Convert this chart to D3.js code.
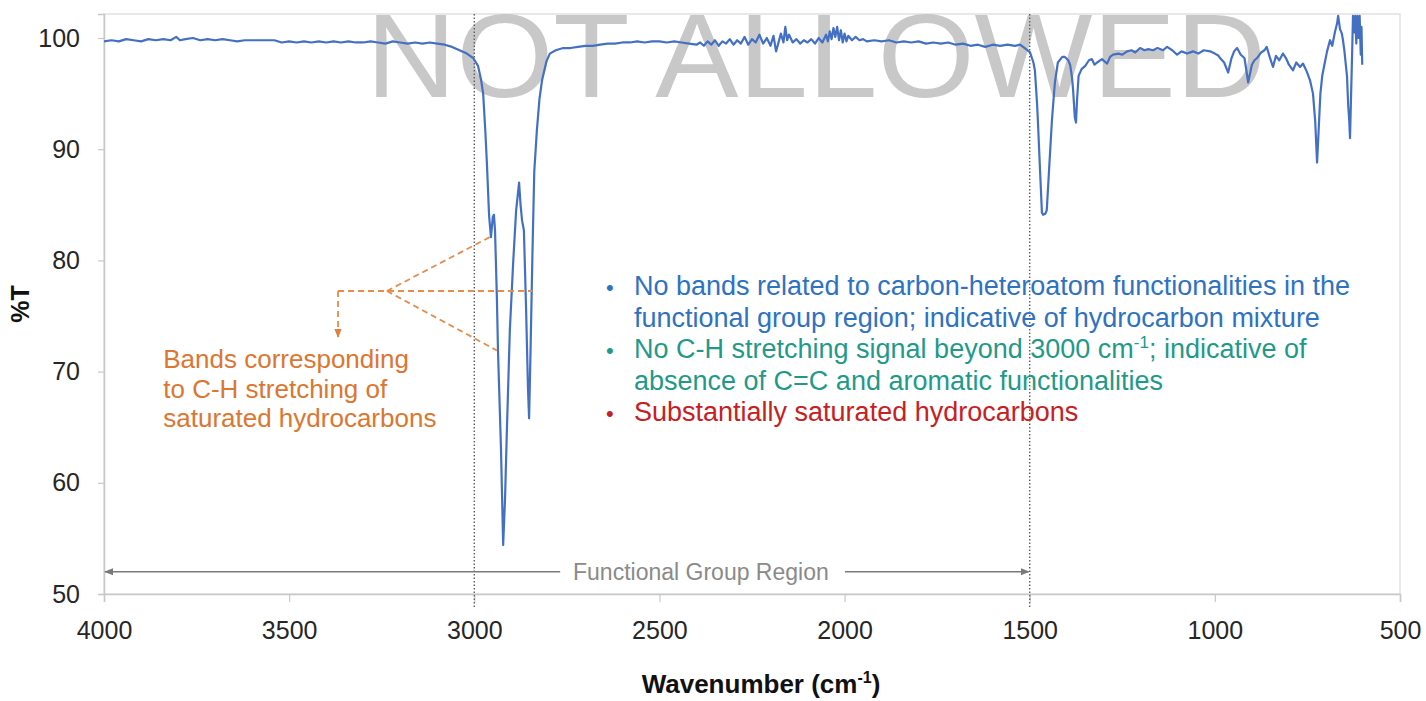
<!DOCTYPE html>
<html><head><meta charset="utf-8">
<script src="https://cdn.jsdelivr.net/npm/d3@7"></script>
<style>
html,body{margin:0;padding:0;background:#fff;}
svg{display:block;font-family:"Liberation Sans",Arial,Helvetica,sans-serif;}
</style></head>
<body>
<svg id="chart" width="1426" height="701"></svg>
<script>
// ---------- data ----------
const xTicks = [4000, 3500, 3000, 2500, 2000, 1500, 1000, 500];
const yTicks = [50, 60, 70, 80, 90, 100];
const regionLines = [3000, 1500];
const bulletLines = [
  {color: "#2e72c2", bullet: true,  parts: [["No bands related to carbon-heteroatom functionalities in the"]]},
  {color: "#2e72c2", bullet: false, parts: [["functional group region; indicative of hydrocarbon mixture"]]},
  {color: "#1f9a8a", bullet: true,  parts: [["No C-H stretching signal beyond 3000 cm"], ["-1", "sup"], ["; indicative of"]]},
  {color: "#1f9a8a", bullet: false, parts: [["absence of C=C and aromatic functionalities"]]},
  {color: "#c8201f", bullet: true,  parts: [["Substantially saturated hydrocarbons"]]}
];
const bandLabel = ["Bands corresponding", "to C-H stretching of", "saturated hydrocarbons"];
// spectrum: [wavenumber (cm-1), %T]
const spectrum = [
[4000,99.7],[3980,99.8],[3960,99.7],[3940,99.9],[3920,99.8],[3900,99.7],[3880,99.9],[3860,99.8],[3840,99.9],[3820,99.8],
[3805,100.1],[3795,99.8],[3780,99.9],[3760,100.0],[3740,99.8],[3720,99.9],[3700,99.8],[3680,99.9],[3660,99.8],[3640,99.7],
[3620,99.8],[3600,99.8],[3580,99.8],[3560,99.8],[3540,99.8],[3520,99.6],[3500,99.7],[3480,99.6],[3460,99.7],[3440,99.6],
[3420,99.7],[3400,99.6],[3380,99.7],[3360,99.6],[3340,99.7],[3320,99.6],[3300,99.6],[3280,99.7],[3260,99.6],[3240,99.5],
[3220,99.7],[3200,99.6],[3180,99.5],[3160,99.6],[3140,99.5],[3120,99.6],[3100,99.5],[3080,99.4],[3060,99.2],[3040,98.9],
[3020,98.6],[3003,98.2],[2990,97.5],[2982,96.3],[2976,95.0],[2970,91.5],[2966,88.8],[2960,84.0],[2955,82.1],[2950,83.9],
[2947,84.1],[2944,82.7],[2939,76.7],[2936,71.9],[2928,63.2],[2922,54.4],[2917,58.5],[2912,64.7],[2904,73.7],[2895,79.8],
[2887,84.5],[2879,87.0],[2875,85.0],[2871,83.6],[2866,82.7],[2860,75.5],[2855,68.5],[2852,65.8],[2848,72.0],[2843,80.5],
[2838,88.0],[2831,91.7],[2824,94.5],[2817,96.2],[2805,97.9],[2796,98.6],[2780,98.9],[2760,99.1],[2740,99.1],[2720,99.2],
[2700,99.3],[2680,99.3],[2660,99.4],[2640,99.5],[2620,99.5],[2600,99.6],[2580,99.6],[2560,99.7],[2540,99.6],[2520,99.7],
[2500,99.7],[2480,99.6],[2460,99.7],[2440,99.6],[2420,99.5],[2400,99.4],[2390,99.6],[2380,99.3],[2370,99.7],[2360,99.4],
[2350,99.8],[2340,99.3],[2330,99.7],[2320,99.5],[2310,99.9],[2300,99.4],[2290,99.8],[2280,99.5],[2270,100.1],[2260,99.4],
[2250,99.9],[2240,99.6],[2230,100.3],[2220,99.5],[2210,100.0],[2200,99.3],[2192,100.2],[2185,98.8],[2180,99.4],[2172,100.4],
[2165,99.6],[2160,101.0],[2155,99.8],[2150,100.3],[2140,99.6],[2130,99.9],[2120,99.5],[2110,99.8],[2100,99.6],[2090,99.9],
[2080,99.5],[2070,100.0],[2060,99.6],[2050,100.3],[2045,99.7],[2040,100.6],[2035,99.9],[2030,100.9],[2025,100.1],[2020,101.0],
[2015,99.8],[2010,100.7],[2005,99.6],[2000,100.4],[1995,99.7],[1990,100.2],[1980,99.8],[1970,100.1],[1960,99.8],[1950,99.9],
[1940,99.7],[1920,99.8],[1900,99.7],[1880,99.8],[1860,99.6],[1840,99.7],[1820,99.6],[1800,99.7],[1780,99.5],[1760,99.6],
[1740,99.5],[1720,99.6],[1700,99.4],[1680,99.5],[1660,99.3],[1640,99.4],[1620,99.2],[1600,99.4],[1580,99.3],[1560,99.4],
[1540,99.3],[1526,99.4],[1510,99.0],[1499,98.7],[1490,97.8],[1486,97.1],[1480,94.0],[1478,92.6],[1472,88.0],[1467,84.3],
[1464,84.1],[1458,84.2],[1454,84.5],[1448,88.0],[1440,92.6],[1432,96.0],[1424,97.8],[1412,98.3],[1405,98.3],[1396,98.0],
[1391,97.6],[1386,96.5],[1383,95.4],[1378,92.8],[1375,92.4],[1372,94.5],[1368,96.6],[1360,97.2],[1350,97.5],[1340,98.0],
[1332,98.1],[1325,97.6],[1318,97.8],[1305,98.1],[1291,97.7],[1283,98.3],[1275,98.5],[1260,98.6],[1250,98.5],[1237,98.8],
[1225,98.9],[1215,98.7],[1202,99.1],[1190,98.9],[1180,99.0],[1167,98.9],[1155,99.1],[1140,98.9],[1129,99.2],[1115,98.9],
[1102,98.5],[1090,98.8],[1075,98.6],[1059,98.8],[1045,98.6],[1030,98.9],[1013,98.8],[1000,98.6],[990,98.4],[986,98.2],
[975,97.8],[964,96.9],[955,98.2],[948,98.8],[940,99.1],[930,98.5],[920,98.2],[910,96.0],[900,97.6],[893,98.0],
[886,98.2],[875,98.7],[866,98.9],[860,99.2],[852,98.3],[843,97.4],[835,98.4],[826,98.0],[816,98.6],[808,98.2],
[800,97.6],[789,97.1],[780,97.8],[770,97.4],[762,97.7],[752,97.0],[743,96.2],[735,95.0],[729,92.5],[724,88.8],
[720,91.5],[715,95.0],[710,96.6],[703,97.8],[697,98.8],[689,99.8],[683,99.3],[676,100.5],[670,101.3],[667,102.0],
[662,100.8],[657,100.4],[654,99.8],[650,98.8],[646,97.5],[643,96.5],[640,94.0],[637,92.5],[635,91.0],[632,95.0],
[629,99.0],[627,102.0],[624,100.5],[621,102.0],[618,99.5],[615,102.0],[612,100.0],[609,102.0],[606,98.5],[604,101.0],[602,97.6]
];

// ---------- layout ----------
const svg = d3.select("#chart");
const M = {left: 104, right: 1400, top: 14, bottom: 594};
const x = d3.scaleLinear().domain([4000, 500]).range([M.left, M.right]);
const y = d3.scaleLinear().domain([50, 102.16]).range([M.bottom, M.top]);
const FONT = '"Liberation Sans",Arial,Helvetica,sans-serif';

svg.append("rect").attr("width", 1426).attr("height", 701).attr("fill", "#fff");

// plot border
svg.append("rect").attr("x", M.left).attr("y", M.top)
  .attr("width", M.right - M.left).attr("height", M.bottom - M.top)
  .attr("fill", "none").attr("stroke", "#dadada").attr("stroke-width", 1.2);

// watermark
svg.append("text").attr("x", 366).attr("y", 97)
  .attr("font-size", 118).attr("font-family", FONT)
  .attr("fill", "#c2c2c2").attr("fill-opacity", 0.9)
  .attr("textLength", 900).attr("lengthAdjust", "spacingAndGlyphs")
  .text("NOT ALLOWED");

// axes
const xAxis = svg.append("g").attr("transform", `translate(0,${M.bottom})`)
  .call(d3.axisBottom(x).tickValues(xTicks).tickSize(8).tickPadding(19).tickFormat(d3.format("d")));
const yAxis = svg.append("g").attr("transform", `translate(${M.left},0)`)
  .call(d3.axisLeft(y).tickValues(yTicks).tickSize(6).tickPadding(18).tickFormat(d3.format("d")));
[xAxis, yAxis].forEach(g => {
  g.select(".domain").attr("stroke", "#c8c8c8").attr("stroke-width", 1.5);
  g.selectAll(".tick line").attr("stroke", "#c8c8c8").attr("stroke-width", 1.2);
  g.selectAll(".tick text").attr("fill", "#262626").attr("font-size", 25).attr("font-family", FONT);
});

// axis titles
svg.append("text").attr("x", 761).attr("y", 693).attr("text-anchor", "middle")
  .attr("font-size", 26).attr("font-weight", "bold").attr("font-family", FONT).attr("fill", "#111")
  .call(t => { t.append("tspan").text("Wavenumber (cm");
               t.append("tspan").attr("dy", -10).attr("font-size", 16).text("-1");
               t.append("tspan").attr("dy", 10).text(")"); });
svg.append("text").attr("transform", `translate(29,${(M.top + M.bottom) / 2}) rotate(-90)`)
  .attr("text-anchor", "middle").attr("font-size", 25).attr("font-weight", "bold")
  .attr("font-family", FONT).attr("fill", "#111").text("%T");

// region dotted lines
svg.selectAll("line.region").data(regionLines).join("line")
  .attr("x1", d => x(d)).attr("x2", d => x(d))
  .attr("y1", M.top).attr("y2", M.bottom + 14)
  .attr("stroke", "#5f5f5f").attr("stroke-width", 1.4).attr("stroke-dasharray", "1.5,2");

// markers
const defs = svg.append("defs");
defs.append("marker").attr("id", "gArrow").attr("viewBox", "0 0 10 10").attr("refX", 9).attr("refY", 5)
  .attr("markerWidth", 9).attr("markerHeight", 9).attr("markerUnits", "userSpaceOnUse").attr("orient", "auto")
  .append("path").attr("d", "M0,1 L10,5 L0,9 z").attr("fill", "#7a7a7a");
defs.append("marker").attr("id", "oArrow").attr("viewBox", "0 0 10 10").attr("refX", 9).attr("refY", 5)
  .attr("markerWidth", 9).attr("markerHeight", 9).attr("markerUnits", "userSpaceOnUse").attr("orient", "auto")
  .append("path").attr("d", "M0,1 L10,5 L0,9 z").attr("fill", "#e0803a");

// functional group region arrow
const fgY = y(52);
svg.append("line").attr("x1", x(2768)).attr("x2", x(4000) + 1).attr("y1", fgY).attr("y2", fgY)
  .attr("stroke", "#7a7a7a").attr("stroke-width", 1.6).attr("marker-end", "url(#gArrow)");
svg.append("line").attr("x1", x(1999)).attr("x2", x(1500) - 1).attr("y1", fgY).attr("y2", fgY)
  .attr("stroke", "#7a7a7a").attr("stroke-width", 1.6).attr("marker-end", "url(#gArrow)");
svg.append("text").attr("x", x(2388)).attr("y", fgY + 8).attr("text-anchor", "middle")
  .attr("font-size", 23).attr("font-family", FONT).attr("fill", "#8a8a8a").text("Functional Group Region");

// spectrum
svg.append("clipPath").attr("id", "plotClip").append("rect")
  .attr("x", M.left).attr("y", M.top).attr("width", M.right - M.left).attr("height", M.bottom - M.top);
const line = d3.line().x(d => x(d[0])).y(d => y(d[1]));
svg.append("path").datum(spectrum).attr("d", line).attr("clip-path", "url(#plotClip)")
  .attr("fill", "none").attr("stroke", "#4470c4").attr("stroke-width", 2.2).attr("stroke-linejoin", "round");

// orange annotation (dashed leaders)
const oStyle = s => s.attr("stroke", "#e68c4c").attr("stroke-width", 1.8).attr("stroke-dasharray", "6,4").attr("fill", "none");
const jY = 77.25;
svg.append("line").attr("x1", x(3368)).attr("x2", x(2844)).attr("y1", y(jY)).attr("y2", y(jY)).call(oStyle);
svg.append("line").attr("x1", x(3236)).attr("x2", x(2958)).attr("y1", y(jY)).attr("y2", y(82.1)).call(oStyle);
svg.append("line").attr("x1", x(3236)).attr("x2", x(2939)).attr("y1", y(jY)).attr("y2", y(71.9)).call(oStyle);
svg.append("line").attr("x1", x(3368)).attr("x2", x(3368)).attr("y1", y(jY)).attr("y2", y(73.1)).call(oStyle)
  .attr("marker-end", "url(#oArrow)");

svg.append("g").selectAll("text").data(bandLabel).join("text")
  .attr("x", x(3840)).attr("y", (d, i) => 368 + i * 29.5)
  .attr("font-size", 26).attr("font-family", FONT).attr("fill", "#dc7630").text(d => d);

// bullet text
const bl = svg.append("g");
bulletLines.forEach((L, i) => {
  const by = 295 + i * 31.5;
  if (L.bullet) bl.append("text").attr("x", 606).attr("y", by).attr("font-size", 22)
    .attr("font-family", FONT).attr("fill", L.color).text("\u2022");
  const t = bl.append("text").attr("x", 634).attr("y", by).attr("font-size", 27)
    .attr("font-family", FONT).attr("fill", L.color);
  let up = false;
  L.parts.forEach(p => {
    const ts = t.append("tspan").text(p[0]);
    if (p[1] === "sup") { ts.attr("dy", -10).attr("font-size", 17); up = true; }
    else if (up) { ts.attr("dy", 10); up = false; }
  });
});
</script>
</body></html>
